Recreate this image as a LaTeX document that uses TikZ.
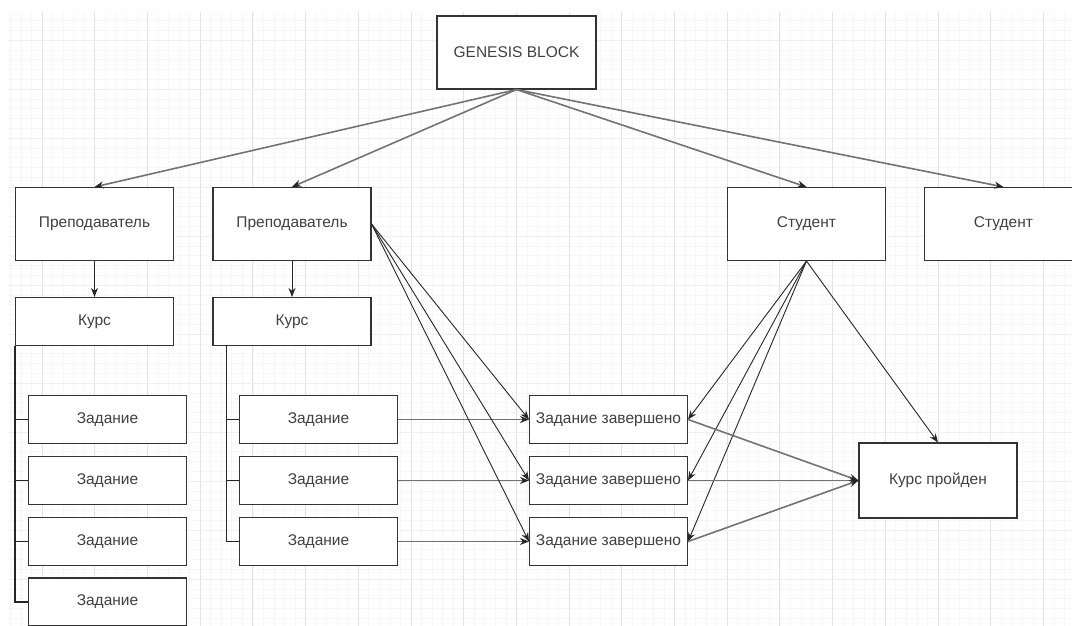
\documentclass[tikz,border=0pt]{standalone}
\usepackage{fontspec}
\setmainfont{Liberation Sans}
\usetikzlibrary{arrows.meta}

\begin{document}
\begin{tikzpicture}[x=1pt, y=-1pt,
    box/.style={draw=black!80, line width=1.1pt, fill=white, text=black!75, minimum width=158pt, inner sep=0pt, font=\fontsize{15.5}{18}\selectfont},
    tallbox/.style={box, minimum height=73pt},
    flatbox/.style={box, minimum height=48pt},
    link/.style={draw=black!85, line width=0.9pt, -{Stealth[length=9pt,width=7pt]}},
    glink/.style={draw=black!55, line width=1.6pt, -{Stealth[length=9pt,width=7pt,color=black!85]}},
    tree/.style={draw=black!85, line width=1.1pt}]
    %--------------------%
    % Parameters
    %--------------------%
    \def\xa{94.5}
    \def\xb{292}
    \def\xta{107.5}
    \def\xtb{318.5}
    \def\xdone{608.5}
    \def\xsa{806.5}
    \def\xsb{1003.5}
    \def\xpass{938}
    \def\yteach{224}
    \def\ycourse{321.5}
    \def\yrowa{419.5}
    \def\yrowb{480.5}
    \def\yrowc{541.5}
    \def\yrowd{602}

    \useasboundingbox (0,0) rectangle (1072,626);
    \clip (0,0) rectangle (1072,626);

    %--------------------%
    % Grid
    %--------------------%
    \begin{scope}
        \clip (7,12) rectangle (1072,626);
        \foreach \i in {0,...,105} \draw[black!3, line width=0.5pt] (-10.7+\i*10.54,12) -- ++(0,614);
        \foreach \j in {0,...,64} \draw[black!3, line width=0.5pt] (7,-9+\j*9.8) -- ++(1065,0);
        \foreach \i in {0,...,21} \draw[black!11, line width=0.8pt] (-10.7+\i*52.7,12) -- ++(0,614);
        \foreach \j in {0,...,13} \draw[black!6, line width=0.8pt] (7,-9+\j*49) -- ++(1065,0);
    \end{scope}

    %--------------------%
    % Top
    %--------------------%
    \node[tallbox, minimum width=159pt] (genesis) at (516.5,52.5) {GENESIS BLOCK};

    \node[tallbox] (teach1) at (\xa,\yteach) {Преподаватель};
    \node[tallbox] (teach2) at (\xb,\yteach) {Преподаватель};
    \node[tallbox] (stud1) at (\xsa,\yteach) {Студент};
    \node[tallbox] (stud2) at (\xsb,\yteach) {Студент};

    %--------------------%
    % Courses and tasks
    %--------------------%
    \node[flatbox] (course1) at (\xa,\ycourse) {Курс};
    \node[flatbox] (course2) at (\xb,\ycourse) {Курс};

    \node[flatbox] (task11) at (\xta,\yrowa) {Задание};
    \node[flatbox] (task12) at (\xta,\yrowb) {Задание};
    \node[flatbox] (task13) at (\xta,\yrowc) {Задание};
    \node[flatbox] (task14) at (\xta,\yrowd) {Задание};

    \node[flatbox] (task21) at (\xtb,\yrowa) {Задание};
    \node[flatbox] (task22) at (\xtb,\yrowb) {Задание};
    \node[flatbox] (task23) at (\xtb,\yrowc) {Задание};

    %--------------------%
    % Results
    %--------------------%
    \node[flatbox] (done1) at (\xdone,\yrowa) {Задание завершено};
    \node[flatbox] (done2) at (\xdone,\yrowb) {Задание завершено};
    \node[flatbox] (done3) at (\xdone,\yrowc) {Задание завершено};

    \node[box, minimum height=75pt] (passed) at (\xpass,\yrowb) {Курс пройден};

    %--------------------%
    % Connections
    %--------------------%
    % Genesis to participants
    \draw[glink] (genesis.south) -- (teach1.north);
    \draw[glink] (genesis.south) -- (teach2.north);
    \draw[glink] (genesis.south) -- (stud1.north);
    \draw[glink] (genesis.south) -- (stud2.north);

    % Teacher to course
    \draw[link] (teach1.south) -- (course1.north);
    \draw[link] (teach2.south) -- (course2.north);

    % Course to tasks
    \coordinate (trunka) at (course1.south west);
    \draw[tree] (trunka) |- (task14.west);
    \draw[tree] (trunka |- task11.west) -- (task11.west);
    \draw[tree] (trunka |- task12.west) -- (task12.west);
    \draw[tree] (trunka |- task13.west) -- (task13.west);

    \coordinate (trunkb) at ([xshift=14pt]course2.south west);
    \draw[tree] (trunkb) |- (task23.west);
    \draw[tree] (trunkb |- task21.west) -- (task21.west);
    \draw[tree] (trunkb |- task22.west) -- (task22.west);

    % Tasks to results
    \draw[glink] (task21.east) -- (done1.west);
    \draw[glink] (task22.east) -- (done2.west);
    \draw[glink] (task23.east) -- (done3.west);

    \draw[link] (teach2.east) -- (done1.west);
    \draw[link] (teach2.east) -- (done2.west);
    \draw[link] (teach2.east) -- (done3.west);

    % Student to results
    \draw[link] (stud1.south) -- (done1.east);
    \draw[link] (stud1.south) -- (done2.east);
    \draw[link] (stud1.south) -- (done3.east);
    \draw[link] (stud1.south) -- (passed.north);

    % Results to course passed
    \draw[glink] (done1.east) -- (passed.west);
    \draw[glink] (done2.east) -- (passed.west);
    \draw[glink] (done3.east) -- (passed.west);

\end{tikzpicture}
\end{document}
